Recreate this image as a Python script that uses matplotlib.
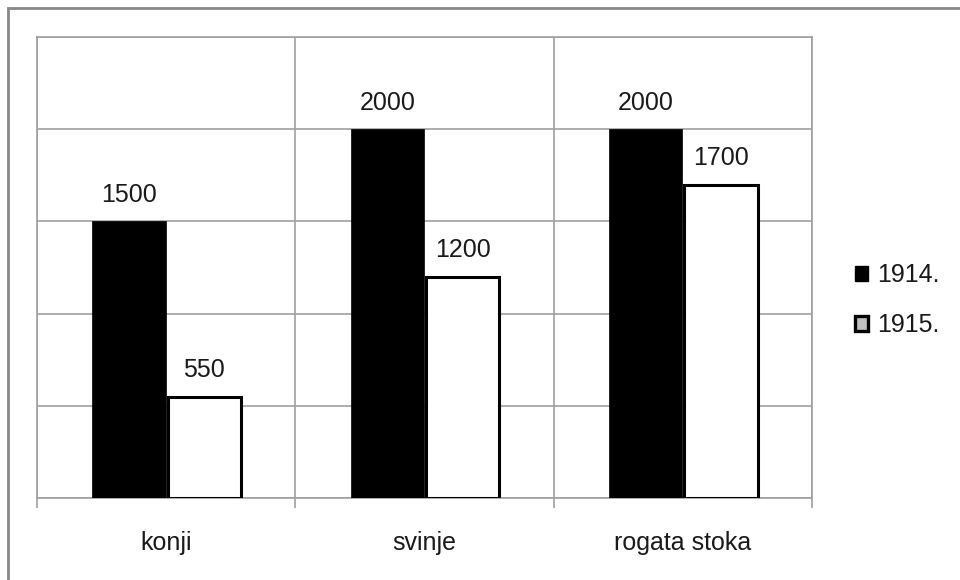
import matplotlib.pyplot as plt
from matplotlib import patches
import numpy as np

plt.rcParams['font.family'] = ['Liberation Sans', 'DejaVu Sans']
plt.rcParams['font.size'] = 18

# Data
categories = ['konji', 'svinje', 'rogata stoka']
years = ['1914.', '1915.']
values_1914 = [1500, 2000, 2000]
values_1915 = [550, 1200, 1700]

grid_col = '#a0a0a0'
text_col = '#1a1a1a'

fig = plt.figure(figsize=(9.6, 5.8), dpi=100)
ax = fig.add_axes([37 / 960, 82 / 580, 775 / 960, 461 / 580])

x = np.arange(len(categories))
w = 0.284
b1 = ax.bar(x - w / 2 - 0.002, values_1914, w, color='black', edgecolor='black',
            linewidth=0.5, zorder=3)
b2 = ax.bar(x + w / 2 + 0.006, values_1915, w, color='white', edgecolor='black',
            linewidth=2.2, zorder=3)

for bars, vals in [(b1, values_1914), (b2, values_1915)]:
    for r, v in zip(bars, vals):
        ax.annotate(str(v), (r.get_x() + r.get_width() / 2, v), xytext=(0, 19),
                    textcoords='offset points', ha='center', va='center',
                    color=text_col)

ax.set_xlim(-0.5, 2.5)
ax.set_ylim(0, 2500)
ax.set_yticks(np.arange(0, 2501, 500))
ax.tick_params(axis='y', length=0, labelleft=False)
ax.yaxis.grid(True, color=grid_col, linewidth=1.2, zorder=0)

# category boundaries as minor ticks and vertical grid
ax.set_xticks(x)
ax.set_xticklabels(categories, color=text_col)
ax.set_xticks([-0.5, 0.5, 1.5, 2.5], minor=True)
ax.tick_params(axis='x', which='major', length=0, pad=24)
ax.tick_params(axis='x', which='minor', length=7, color=grid_col, width=1.2)
ax.xaxis.grid(True, which='minor', color=grid_col, linewidth=1.2, zorder=0)
ax.set_axisbelow(True)
for s in ax.spines.values():
    s.set_color(grid_col)
    s.set_linewidth(1.2)

# legend
handles = [patches.Patch(facecolor='black', edgecolor='black', linewidth=1),
           patches.Patch(facecolor='#c0c0c0', edgecolor='black', linewidth=2.4)]
fig.legend(handles, years, loc='center left', bbox_to_anchor=(832 / 960, 280 / 580),
           frameon=False, handlelength=0.55, handleheight=0.55, handletextpad=0.35,
           labelspacing=1.05, labelcolor=text_col)

# outer border of the chart area
fig.patches.append(patches.Rectangle((8 / 960, -0.1), 1.2, 1.1 - 8 / 580,
                                     transform=fig.transFigure, fill=False,
                                     edgecolor='#888888', linewidth=2))

plt.savefig('out.png', dpi=100)
